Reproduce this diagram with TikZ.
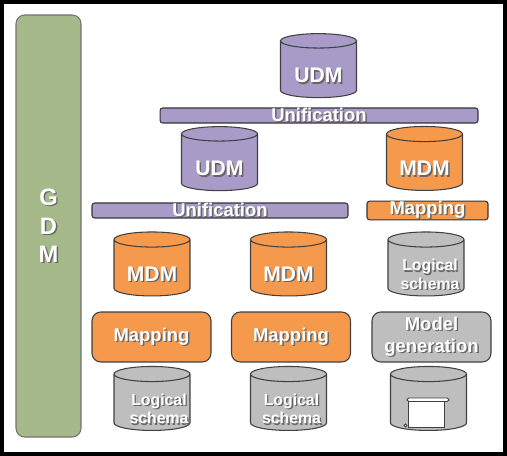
\documentclass[tikz,border=0pt]{standalone}
\usepackage{fontspec}
\setmainfont{Liberation Sans}
\usetikzlibrary{shapes.geometric}
\definecolor{gdmgreen}{HTML}{A5B98A}
\definecolor{udmpurple}{HTML}{A99BC8}
\definecolor{mdmorange}{HTML}{F59A4C}
\definecolor{lsgray}{HTML}{BEBEBE}
\newcommand{\shtxt}[1]{\leavevmode\rlap{\kern0.8pt\raisebox{-0.8pt}{\color{black!60}#1}}#1}
\tikzset{
  db/.style={cylinder, shape border rotate=90, aspect=0.3, draw=black!75, line width=0.6pt,
    minimum width=1.52cm, minimum height=1.28cm, inner sep=0pt, text=white, text height=15pt, text depth=0pt,
    font=\bfseries\fontsize{12}{14}\selectfont},
  lstext/.style={inner sep=0pt, align=center, text=white, font=\bfseries\fontsize{9}{10.5}\selectfont},
  bar/.style={draw=black!80, line width=0.6pt, rounded corners=1.5pt, minimum height=0.3cm, inner sep=0pt,
    text=white, font=\bfseries\fontsize{10.5}{12}\selectfont},
  procbox/.style={draw=black!75, line width=0.6pt, rounded corners=5pt, minimum width=2.38cm, minimum height=1cm,
    inner sep=0pt, text=white, align=center, font=\bfseries\fontsize{10.5}{12.5}\selectfont}
}
\begin{document}
\begin{tikzpicture}[x=0.02cm,y=-0.02cm]
	\useasboundingbox (0,0) rectangle (507,456);
	\fill[white] (0,0) rectangle (507,456);
	\draw [line width=3pt] (1.5,1.5) rectangle (505.5,454.5);
	\draw [fill=gdmgreen, draw=black!55, line width=0.6pt, rounded corners=5pt] (16,15) rectangle (81,437);
	\node (g) at (48.5,198) {\bfseries\fontsize{13.5}{15}\selectfont\color{white}\shtxt{G}};
	\node (d) at (48.5,227) {\bfseries\fontsize{13.5}{15}\selectfont\color{white}\shtxt{D}};
	\node (m) at (48.5,255) {\bfseries\fontsize{13.5}{15}\selectfont\color{white}\shtxt{M}};
	\node [db, fill=udmpurple] (udmtop) at (318.5,69.5) {\shtxt{UDM}};
	\node [bar, fill=udmpurple, minimum width=6.36cm] (unif1) at (319,115.5) {\shtxt{Unification}};
	\node [db, fill=udmpurple] (udmleft) at (219.5,162.5) {\shtxt{UDM}};
	\node [db, fill=mdmorange] (mdmright) at (424.5,162.5) {\shtxt{MDM}};
	\node [bar, fill=udmpurple, minimum width=5.12cm] (unif2) at (220,210.5) {\shtxt{Unification}};
	\node [bar, fill=mdmorange, minimum width=2.42cm] (mapright) at (427.5,210.5) {\shtxt{Mapping}};
	\node [db, fill=mdmorange] (mdma) at (152,268) {\shtxt{MDM}};
	\node [db, fill=mdmorange] (mdmb) at (288.5,268) {\shtxt{MDM}};
	\node [db, fill=lsgray] (lsc) at (426,268) {\phantom{MDM}};
	\node [lstext] (lsctext) at ([shift={(4,7)}]lsc.center) {\shtxt{Logical}\\\shtxt{schema}};
	\node [procbox, fill=mdmorange] (mapa) at (151.5,337) {\shtxt{Mapping}};
	\node [procbox, fill=mdmorange] (mapb) at (291,337) {\shtxt{Mapping}};
	\node [procbox, fill=lsgray] (modgen) at (431.5,337) {\shtxt{Model}\\\shtxt{generation}};
	\node [db, fill=lsgray] (lsa) at (152,402.5) {\phantom{MDM}};
	\node [lstext] (lsatext) at ([shift={(7,7)}]lsa.center) {\shtxt{Logical}\\\shtxt{schema}};
	\node [db, fill=lsgray] (lsb) at (288.5,402.5) {\phantom{MDM}};
	\node [lstext] (lsbtext) at ([shift={(3,7)}]lsb.center) {\shtxt{Logical}\\\shtxt{schema}};
	\node [db, fill=lsgray] (doc) at (428.5,402.5) {\phantom{MDM}};
	\draw [fill=white, draw=black!75, line width=0.5pt] (408,400) rectangle (444,427);
	\draw [fill=white, draw=black!75, line width=0.5pt, rounded corners=1pt] (407,398) rectangle (449,401.5);
	\draw [fill=white, draw=black!75, line width=0.5pt] (405.5,425.5) circle (1.5);
\end{tikzpicture}
\end{document}
